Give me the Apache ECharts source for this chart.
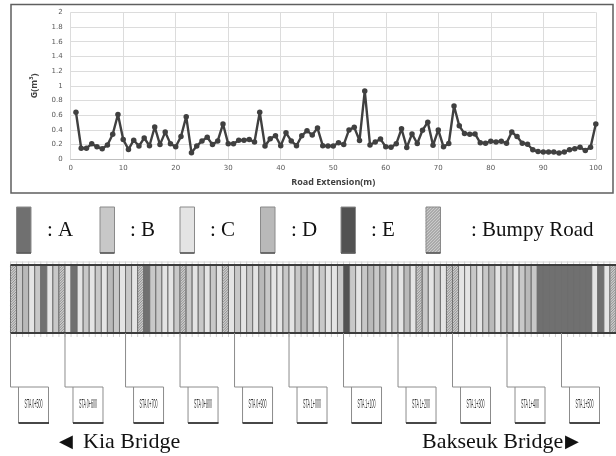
<!DOCTYPE html>
<html><head><meta charset="utf-8">
<script src="https://cdn.jsdelivr.net/npm/echarts@6/dist/echarts.min.js"></script>
<style>html,body{margin:0;padding:0;background:#fff}#c{width:616px;height:456px}</style>
</head><body><div id="c"></div>
<script>
// ---- data ----
const gValues = [0.64,0.15,0.15,0.21,0.17,0.145,0.195,0.34,0.61,0.27,
  0.135,0.26,0.18,0.29,0.185,0.44,0.20,0.37,0.21,0.17,
  0.31,0.58,0.09,0.18,0.25,0.30,0.20,0.25,0.48,0.21,
  0.21,0.26,0.26,0.27,0.235,0.64,0.18,0.28,0.32,0.185,
  0.36,0.25,0.185,0.32,0.39,0.33,0.425,0.185,0.18,0.18,
  0.225,0.20,0.40,0.435,0.255,0.93,0.195,0.235,0.275,0.17,
  0.165,0.21,0.415,0.16,0.345,0.215,0.395,0.505,0.19,0.40,
  0.17,0.215,0.725,0.455,0.35,0.34,0.345,0.225,0.22,0.245,
  0.235,0.245,0.22,0.37,0.31,0.22,0.205,0.13,0.105,0.10,
  0.10,0.10,0.085,0.10,0.13,0.145,0.165,0.12,0.165,0.48];
// road surface class per segment (X = bumpy road)
const segmentClasses = ['X','B','D','C','B','A','C','B','X','C','A','C','B','C','B','C','D','B','C','B','C','X','A','B','B','C','C','B','X','B','C','B',
  'C','B','C','X','C','B','C','B','C','D','B','C','C','B','C','B','D','B','C','B','C','C','B','E','B','C','B','D','B','D','C','B','C','D',
  'C','X','B','C','B','C','X','X','C','C','B','C','B','D','C','B','D','C','B','D','B',
  'A','A','A','A','A','A','A','A','A','C','A','C','X'];
const stationPositions = [0,9,19,28,37,46,55,64,73,82,91];
const stationLabels = ['STA 0+500','STA 0+600','STA 0+700','STA 0+800','STA 0+900','STA 1+000','STA 1+100','STA 1+200','STA 1+300','STA 1+400','STA 1+500'];
const legendKeys = ['A','B','C','D','E','X'];
const legendLabels = [': A',': B',': C',': D',': E',': Bumpy Road'];
const xAxisName = 'Road Extension(m)';
const yAxisName = 'G(m³)';
const leftBridge = 'Kia Bridge';
const rightBridge = 'Bakseuk Bridge';

// ---- styles ----
const classColor = {A:'#707070',B:'#c8c8c8',C:'#e4e4e4',D:'#b9b9b9',E:'#525252',X:'#cbcbcb'};
const hatchColor = '#8a8a8a';

function hatch(x0,y0,w,h,step,color,lw){
  const out=[];
  for(let ys=y0+step*0.5; ys<y0+h+w; ys+=step){
    const t0=Math.max(0,ys-(y0+h)), t1=Math.min(w,ys-y0);
    if(t1>t0) out.push({type:'line',shape:{x1:x0+t0,y1:ys-t0,x2:x0+t1,y2:ys-t1},style:{stroke:color,lineWidth:lw}});
  }
  return out;
}

const chart = echarts.init(document.getElementById('c'), null, {renderer:'canvas'});

// legend graphics
const legendSwatchX = [16.5,100,180,260.5,341,426];
const legendTextX = [47,130,210,291,371,471];
const graphics = [
  {type:'rect',shape:{x:11,y:4.5,width:602,height:188.5},style:{fill:'none',stroke:'#5f5f5f',lineWidth:1.5},z:0}
];
legendKeys.forEach((k,i)=>{
  const x=legendSwatchX[i], y=207, w=14.5, h=46;
  graphics.push({type:'rect',shape:{x:x,y:y,width:w,height:h},style:{fill:classColor[k],stroke:'#8a8a8a',lineWidth:1}});
  if(k==='X'){ hatch(x,y,w,h,3,hatchColor,1).forEach(l=>graphics.push(l)); }
  graphics.push({type:'line',shape:{x1:x,y1:y+h,x2:x+w,y2:y+h},style:{stroke:'#555',lineWidth:1.5}});
  graphics.push({type:'text',x:legendTextX[i],y:230,style:{text:legendLabels[i],font:'21px "Liberation Serif"',fill:'#111',verticalAlign:'middle',align:'left'}});
});
graphics.push({type:'text',x:59,y:442,style:{text:'◀',font:'18px "DejaVu Sans"',fill:'#111',verticalAlign:'middle'}});
graphics.push({type:'text',x:83,y:442,style:{text:leftBridge,font:'22px "Liberation Serif"',fill:'#111',verticalAlign:'middle'}});
graphics.push({type:'text',x:422,y:442,style:{text:rightBridge,font:'22px "Liberation Serif"',fill:'#111',verticalAlign:'middle'}});
graphics.push({type:'text',x:565,y:442,style:{text:'▶',font:'18px "DejaVu Sans"',fill:'#111',verticalAlign:'middle'}});

const option = {
  animation:false,
  backgroundColor:'#fff',
  graphic: graphics,
  grid:[
    {left:70.7, right:20.2, top:12.3, bottom:296.7},
    {left:10.5, right:0, top:265, height:68}
  ],
  xAxis:[
    {gridIndex:0,type:'value',min:0,max:100,interval:10,
      name:xAxisName,nameLocation:'middle',nameGap:19,
      nameTextStyle:{fontSize:9,color:'#404040',fontFamily:'Open Sans',fontWeight:'bold'},
      axisLine:{show:true,lineStyle:{color:'#bfbfbf',width:1}},
      axisTick:{show:false},
      axisLabel:{fontSize:7,color:'#595959',margin:5,fontFamily:'DejaVu Sans'},
      splitLine:{show:true,lineStyle:{color:'#dcdcdc',width:1}}},
    {gridIndex:1,type:'value',min:0,max:100,show:false}
  ],
  yAxis:[
    {gridIndex:0,type:'value',min:0,max:2,interval:0.2,
      name:yAxisName,nameLocation:'middle',nameGap:32,nameRotate:90,
      nameTextStyle:{fontSize:9,color:'#404040',fontFamily:'Open Sans',fontWeight:'bold'},
      axisLine:{show:false},axisTick:{show:false},
      axisLabel:{fontSize:7,color:'#595959',margin:8,fontFamily:'DejaVu Sans'},
      splitLine:{show:true,lineStyle:{color:'#dcdcdc',width:1}}},
    {gridIndex:1,type:'value',min:0,max:1,show:false}
  ],
  series:[
    {type:'line',xAxisIndex:0,yAxisIndex:0,
      data:gValues.map((v,i)=>[i+1,v]),
      symbol:'circle',symbolSize:5.5,
      lineStyle:{color:'#404040',width:2.4},
      itemStyle:{color:'#404040'}},
    {type:'custom',xAxisIndex:1,yAxisIndex:1,
      data:segmentClasses.map((c,i)=>[i]),
      renderItem:function(params,api){
        const i=api.value(0);
        const cls=segmentClasses[params.dataIndex];
        const p0=api.coord([i,1]), p1=api.coord([i+1,0]);
        const x0=p0[0], y0=p0[1], w=p1[0]-p0[0], h=p1[1]-p0[1];
        const ch=[{type:'rect',shape:{x:x0,y:y0,width:w,height:h},style:{fill:classColor[cls],stroke:'#6e6e6e',lineWidth:1}}];
        if(cls==='X'){ hatch(x0,y0,w,h,2.6,hatchColor,0.9).forEach(l=>ch.push(l)); }
        ch.push({type:'line',shape:{x1:x0,y1:y0-3.5,x2:x0,y2:y0},style:{stroke:'#cfcfcf',lineWidth:1}});
        ch.push({type:'line',shape:{x1:x0,y1:y0+h,x2:x0,y2:y0+h+4},style:{stroke:'#cfcfcf',lineWidth:1}});
        return {type:'group',children:ch};
      }},
    {type:'custom',xAxisIndex:1,yAxisIndex:1,
      data:[[0,100]],
      renderItem:function(params,api){
        const a=api.coord([api.value(0),1]), b=api.coord([api.value(1),0]);
        return {type:'group',children:[
          {type:'line',shape:{x1:a[0],y1:a[1]-3,x2:b[0],y2:a[1]-3},style:{stroke:'#d4d4d4',lineWidth:1}},
          {type:'line',shape:{x1:a[0],y1:a[1],x2:b[0],y2:a[1]},style:{stroke:'#3c3c3c',lineWidth:2}},
          {type:'line',shape:{x1:a[0],y1:b[1],x2:b[0],y2:b[1]},style:{stroke:'#3c3c3c',lineWidth:2}}
        ]};
      }},
    {type:'custom',xAxisIndex:1,yAxisIndex:1,
      data:stationPositions.map(p=>[p]),
      renderItem:function(params,api){
        const p=api.coord([api.value(0),0]);
        const x=p[0], yb=p[1];
        const st={stroke:'#8c8c8c',lineWidth:1};
        return {type:'group',children:[
          {type:'line',shape:{x1:x,y1:yb,x2:x,y2:yb+54},style:st},
          {type:'line',shape:{x1:x,y1:yb+54,x2:x+38,y2:yb+54},style:st},
          {type:'line',shape:{x1:x+8,y1:yb+54,x2:x+8,y2:yb+90},style:st},
          {type:'line',shape:{x1:x+38,y1:yb+54,x2:x+38,y2:yb+90},style:st},
          {type:'line',shape:{x1:x+8,y1:yb+90,x2:x+38.5,y2:yb+90},style:{stroke:'#333',lineWidth:1.8}},
          {type:'text',x:x+23,y:yb+72,scaleX:0.3,style:{text:stationLabels[params.dataIndex],font:'12px "Liberation Sans"',fill:'#333',align:'center',verticalAlign:'middle'}}
        ]};
      }}
  ]
};
chart.setOption(option);
</script>
</body></html>
